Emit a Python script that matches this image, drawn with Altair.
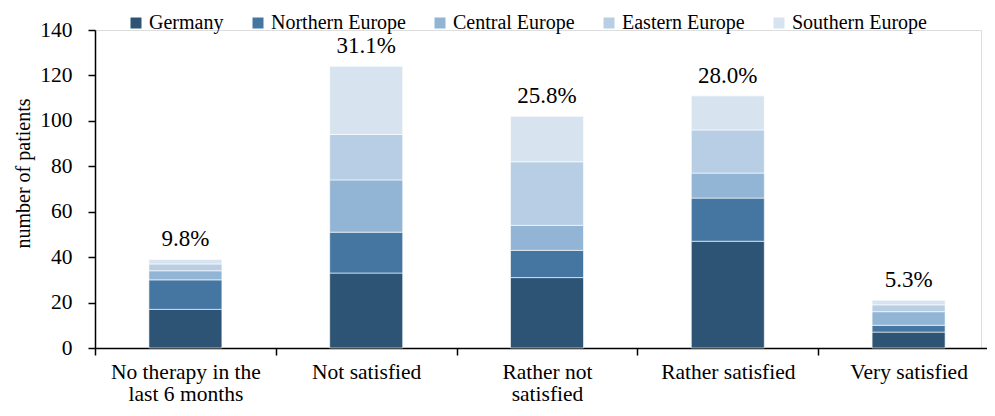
import altair as alt
import pandas as pd

categories = ["No therapy in the\nlast 6 months", "Not satisfied", "Rather not\nsatisfied",
              "Rather satisfied", "Very satisfied"]
regions = ["Germany", "Northern Europe", "Central Europe", "Eastern Europe", "Southern Europe"]
germany = [17, 33, 31, 47, 7]
northern = [13, 18, 12, 19, 3]
central = [4, 23, 11, 11, 6]
eastern = [3, 20, 28, 19, 3]
southern = [2, 30, 20, 15, 2]
percent_labels = ["9.8%", "31.1%", "25.8%", "28.0%", "5.3%"]
colors = ["#2E5475", "#4576A2", "#93B5D5", "#B8CEE4", "#D7E4EF"]

series = [germany, northern, central, eastern, southern]
rows = []
for ri, (reg, vals) in enumerate(zip(regions, series)):
    for c, v in zip(categories, vals):
        rows.append({"category": c, "region": reg, "order": ri, "value": v})
df = pd.DataFrame(rows)

totals = pd.DataFrame({
    "category": categories,
    "total": [sum(s[i] for s in series) for i in range(len(categories))],
    "label": percent_labels,
})

FONT = "Liberation Serif, Times New Roman, serif"

xscale = alt.Scale(range=[0, 904], paddingInner=0, paddingOuter=0)

x_enc = alt.X("category:N", sort=categories, scale=xscale,
              axis=alt.Axis(title=None, labelAngle=0, labelFontSize=21.5, labelFont=FONT,
                            labelColor="#000", labelExpr="split(datum.label, '\\n')",
                            labelLineHeight=22.5, labelPadding=6, tickBand="extent",
                            tickSize=7, tickColor="#000", tickWidth=1.5,
                            domainColor="#000", domainWidth=1.5, labelLimit=300))

bars = alt.Chart(df).mark_bar(size=73, stroke="#ffffff", strokeWidth=0.6).encode(
    x=x_enc,
    y=alt.Y("value:Q", stack="zero",
            scale=alt.Scale(domain=[0, 140], nice=False),
            axis=alt.Axis(title="number of patients", values=[0, 20, 40, 60, 80, 100, 120, 140],
                          grid=False, labelFontSize=21.5, labelFont=FONT, labelColor="#000",
                          labelPadding=16, tickSize=7, tickColor="#000", tickWidth=1.5,
                          domainColor="#000", domainWidth=1.5,
                          titleFontSize=20, titleFont=FONT, titleFontWeight="normal",
                          titleColor="#000", titleAngle=-90, titleX=-72, titleY=143,
                          titleAlign="center", titleBaseline="middle")),
    color=alt.Color("region:N", sort=regions,
                    scale=alt.Scale(domain=regions, range=colors),
                    legend=alt.Legend(title=None, orient="none", legendX=31, legendY=-17,
                                      direction="horizontal", symbolType="square",
                                      symbolSize=121, symbolStrokeWidth=0,
                                      labelFontSize=20, labelFont=FONT, labelColor="#000",
                                      columnPadding=24, labelOffset=3, labelLimit=300)),
    order=alt.Order("order:Q", sort="ascending"),
)

text = alt.Chart(totals).mark_text(baseline="alphabetic", dy=-13, fontSize=23,
                                   font=FONT, color="#000").encode(
    x=alt.X("category:N", sort=categories, scale=xscale),
    y=alt.Y("total:Q"),
    text="label:N",
)

chart = alt.layer(bars, text).properties(
    width=886, height=318,
    autosize=alt.AutoSizeParams(type="none"),
    padding={"left": 87, "top": 22, "right": 6, "bottom": 60},
).configure_view(stroke=None).configure(background="white", font=FONT)

chart.save("out.html", embed_options={"renderer": "svg", "actions": False})
